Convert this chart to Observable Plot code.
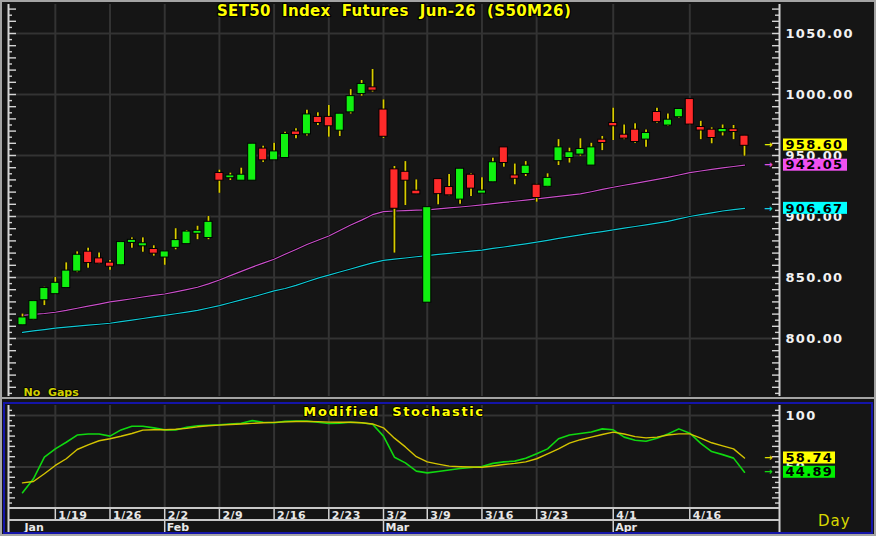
<!DOCTYPE html>
<html>
<head>
<meta charset="utf-8">
<script src="https://cdn.jsdelivr.net/npm/d3@7"></script>
<script src="https://cdn.jsdelivr.net/npm/@observablehq/plot@0.6"></script>
<style>
  html, body { margin: 0; padding: 0; background: #151515; }
  #wrap { position: relative; width: 876px; height: 536px; background: #151515; overflow: hidden; }
  #main { position: absolute; left: 0; top: 0; }
  #stoch { position: absolute; left: 0; top: 400px; }
  svg { overflow: visible; }
  svg text { paint-order: stroke; white-space: pre; }
  .line { position: absolute; }
  #outer { left: 0; top: 0; width: 872px; height: 532px; border: 2px solid #a4a4a4; }
  #sep { left: 0; top: 397px; width: 876px; height: 2px; background: #a4a4a4; }
  #blue { left: 3px; top: 402px; width: 866px; height: 128px; border: 2px solid #1414a8; }
  #row1 { left: 8px; top: 507px; width: 771px; height: 2px; background: #c8c8c8; }
  #row2 { left: 8px; top: 519px; width: 771px; height: 2px; background: #c8c8c8; }
  #day { position: absolute; left: 818px; top: 512px; font: 15px "DejaVu Sans"; color: #d8d800; letter-spacing: 1px; }
</style>
</head>
<body>
<div id="wrap">
  <div id="main"></div>
  <div id="stoch"></div>
  <div class="line" id="outer"></div>
  <div class="line" id="sep"></div>
  <div class="line" id="blue"></div>
  <div class="line" id="row1"></div>
  <div class="line" id="row2"></div>
  <div id="day">Day</div>
</div>
<script>
// ---------- data ----------
const dates = ["1/14","1/15","1/16","1/19","1/20","1/21","1/22","1/23","1/26","1/27","1/28","1/29","1/30",
  "2/2","2/3","2/4","2/5","2/6","2/9","2/10","2/11","2/12","2/13","2/16","2/17","2/18","2/19","2/20",
  "2/23","2/24","2/25","2/26","2/27","3/2","3/4","3/5","3/6","3/9","3/10","3/11","3/12","3/13",
  "3/16","3/17","3/18","3/19","3/20","3/23","3/24","3/25","3/26","3/27","3/30","3/31",
  "4/1","4/2","4/3","4/7","4/8","4/9","4/10","4/16","4/17","4/20","4/21","4/22","4/23"];

const open = [811.5,816,832,837,842,855.5,870.5,865,861.5,860.7,879,876.2,872.7,
  867,875,878,886.5,883,935,932,930,930,955,946.7,948.6,969,968,981,
  981,971,986,1001,1005.2,987,938,936,920.5,830,930,923.5,914.5,933.6,
  919.4,928.7,956,933,935.5,925.4,925,946,948.6,951.4,942.4,962.3,
  976,966.4,970.5,963.7,985,975.2,982,995.6,972.7,970.5,969.7,970.9,965.6];
const high = [820,831,842,850,862,871,874,870,864,879.5,882.5,882.5,876,
  871,890,888.5,892,900,938,935.5,939.6,959.5,957.6,960,969,972,987,985,
  991,984,1004,1011.5,1020.5,995.6,941,945,930,907.5,930.5,934.4,939,935,
  931.7,947.8,956.5,943,945,926.5,935,963,956,963.7,960,965.6,
  988.8,975,976,971,988.8,984,988.3,996,978,972.7,975,974.6,966.4];
const low = [810.7,815,827,836,841,854,857.6,861,856,859.8,874,870.7,867.5,
  860,872.7,877.6,881,881,919,929.5,930,929.5,944.3,946,947.8,963.7,966,974.6,
  965,965.6,984,998.6,1002,964,870,909,918,829.5,909.6,917,910,916.4,
  918.6,928,940.4,926,932.8,911.7,924,941.8,943.8,949.4,941.8,954,
  962.3,963,960,956.8,976.5,974,980.6,975,963,959.6,966,963,949.4];
const close = [816.6,830,840.7,845,855,868,862.5,862,859.5,878.4,880.2,877.4,870.2,
  870.7,880,887,887.6,895,930,933,933.6,959,946.7,952.7,967,967.5,983,977.3,
  974.6,983.6,998,1008,1003.8,966,907,930,918.8,907,919,918,938.5,923.5,
  920.6,943.8,944.5,931.6,941,915.8,931,956,952,954.7,956,960.9,
  974.6,964.5,961.7,967.8,978,978.7,987.5,976,971.1,965,971.1,969.9,958.6];

const maFast = [819,819.8,820.5,821.5,823,824.8,826.5,828.2,830,831.3,832.6,834,835.3,
  836.5,838.2,840,842,844.8,848,851.5,855,858.5,861.8,865,869,873,877,880.5,
  884,888.5,893,897,901.5,904,904.5,904.8,905.2,905.5,906.3,907,907.8,908.6,
  909.5,910.5,911.5,912.5,913.5,914.5,915.5,916.5,917.5,918.5,920.3,922.2,
  924,925.6,927.2,928.8,930.4,932,934,936,937.3,938.6,939.8,941,942.05];
const maSlow = [805,806.2,807.3,808.5,809.3,810.1,810.9,811.7,812.5,813.8,815.1,816.4,817.7,
  819,820.3,821.6,823,825,827,829.3,831.6,834,836.5,839,841,843.5,846.5,849.5,
  852,854.5,857,859.5,862,864,865,866,867,868,869,869.8,870.7,871.6,
  872.5,873.8,875,876.3,877.6,879,880.5,882,883.5,885,886.3,887.6,
  889,890.4,891.8,893.2,894.6,896,898,900,901.5,903,904.5,905.6,906.67];

const stochK = [25,38.5,59.5,67.6,74,81,82,82,80,86,89.5,89.6,88,
  86,86,88.5,90,90.5,91,91.8,92.5,95,93.5,93,94.3,94.5,94.5,93.5,
  92.2,92.6,93.5,93,91.5,80,59.5,54,46,44.3,45.6,47,48.5,49.5,
  50.5,53.5,55,55.7,58.5,62.8,67.6,77.4,81,82.5,84,87,
  86.1,79,76,75,78,82,87,82.8,73,65,62,58.6,44.89];
const stochD = [34.6,35.9,43.4,51.5,58,67,71.5,75.5,77.4,79.8,82.5,85.8,86.1,
  86.1,86.6,87.5,89,90,90.6,91.2,91.8,92.3,92.9,93.3,93.8,94.2,94.2,94,
  93.6,93.5,93.5,93,91.8,88,78,69.5,60,55,52.8,50.8,50.3,50,
  49.8,51,52.4,53.5,55,58,62.8,67.5,73.1,76.5,79,81.5,
  83.8,82,79.5,78.3,79,81,82.2,82.2,78,73.5,70.5,67.6,58.74];

const priceTicks = [800, 850, 900, 950, 1000, 1050];
const stochTicks = [50, 100];
const weekLabels = ["1/19","1/26","2/2","2/9","2/16","2/23","3/2","3/9","3/16","3/23","4/1","4/16"];
const monthLabels = ["Jan","Feb","Mar","Apr"];
const monthStarts = ["1/14","2/2","3/2","4/1"];

const title = "SET50  Index  Futures  Jun-26  (S50M26)";
const stochTitle = "Modified  Stochastic";
const gapsNote = "No  Gaps";

// ---------- derived tables ----------
const idx = d3.range(dates.length);
const candles = idx.map(i => ({i, open: open[i], high: high[i], low: low[i], close: close[i]}));
const weekTicks = weekLabels.map(l => ({i: dates.indexOf(l), label: l}));
const months = monthLabels.map((l, k) => ({i: dates.indexOf(monthStarts[k]), label: l}));
const last = idx.length - 1;

const mainBoxes = [
  {v: close[last], fill: "#ffff00", arrow: "#e8e800"},
  {v: maFast[last], fill: "#f050f0", arrow: "#e050e0"},
  {v: maSlow[last], fill: "#00ffff", arrow: "#10d0e0"}
];
const stochBoxes = [
  {v: stochD[last], fill: "#ffff00", arrow: "#e0d800"},
  {v: stochK[last], fill: "#00f000", arrow: "#10d810"}
];

// ---------- styling ----------
const W = 876, ML = 8, MR = 97, PW = W - ML - MR;
const xDomain = [-1.28, 69.2];
const grid = "#333333";
const axisCol = "#d4d4d4";
const green = "#10f010", red = "#ff2a2a", wick = "#d8cc00";
const baseStyle = {background: "transparent", color: "#f2f2f2", fontFamily: "DejaVu Sans",
                   fontSize: "13px", fontWeight: "bold"};

function tickMarks(values, side, len) {
  return Plot.ruleY(values, side === "right"
    ? {y: d => d, insetLeft: PW - len, stroke: axisCol, strokeWidth: 1.4}
    : {y: d => d, insetRight: PW - len, stroke: axisCol, strokeWidth: 1.4});
}

function boxMarks(data, boxW, fmt) {
  return [
    Plot.rect(data, {y1: "v", y2: "v", insetTop: -6, insetBottom: -6,
      insetLeft: PW + 4, insetRight: -(boxW + 4), fill: "fill"}),
    Plot.text(data, {y: "v", text: d => fmt(d.v), frameAnchor: "right", dx: 6, textAnchor: "start",
      fill: "#000", fontSize: 13, fontWeight: "bold"}),
    Plot.text(data, {y: "v", text: () => "→", frameAnchor: "right", dx: -11, textAnchor: "middle",
      fill: "arrow", fontSize: 10, fontWeight: "bold"})
  ];
}

function spacing(svg) {
  const sel = d3.select(svg).selectAll("text");
  sel.filter(function () { return /^[0-9.]+$/.test(this.textContent); }).style("letter-spacing", "1.3px");
  sel.filter(function () { return /^\d+\/\d+$/.test(this.textContent); }).style("letter-spacing", "0.5px");
  sel.filter(function () { return this.textContent === title; }).style("letter-spacing", "0.35px");
  sel.filter(function () { return this.textContent === stochTitle; }).style("letter-spacing", "1.6px");
}

// ---------- main price panel ----------
const yMain = [752.46, 1073.77];
const minor5 = d3.range(755, 1075, 5).filter(v => v % 10 !== 0);
const major10 = d3.range(760, 1075, 10);

const mainPlot = Plot.plot({
  width: W, height: 400,
  marginLeft: ML, marginRight: MR, marginTop: 4, marginBottom: 4,
  style: baseStyle,
  x: {domain: xDomain, axis: null},
  y: {domain: yMain, axis: "right", ticks: priceTicks, tickFormat: d => d.toFixed(2),
      tickSize: 0, tickPadding: 6, label: null},
  marks: [
    Plot.ruleY(priceTicks, {stroke: grid, strokeWidth: 2}),
    Plot.ruleX(weekTicks, {x: "i", stroke: grid, strokeWidth: 2}),
    Plot.line(maSlow, {x: (d, i) => i, y: d => d, stroke: "#000", strokeWidth: 2.4}),
    Plot.line(maSlow, {x: (d, i) => i, y: d => d, stroke: "#10c8d4", strokeWidth: 1.2}),
    Plot.line(maFast, {x: (d, i) => i, y: d => d, stroke: "#000", strokeWidth: 2.4}),
    Plot.line(maFast, {x: (d, i) => i, y: d => d, stroke: "#c850c8", strokeWidth: 1.2}),
    Plot.ruleX(candles, {x: "i", y1: "low", y2: "high", stroke: "#000", strokeWidth: 3.6}),
    Plot.ruleX(candles, {x: "i", y1: "low", y2: "high", stroke: wick, strokeWidth: 1.8}),
    Plot.rect(candles, {x1: d => d.i - 0.37, x2: d => d.i + 0.37, y1: "open", y2: "close",
      insetTop: -0.8, insetBottom: -0.8,
      fill: d => d.close >= d.open ? green : red, stroke: "#000", strokeWidth: 1}),
    Plot.ruleX(xDomain, {stroke: axisCol, strokeWidth: 2}),
    tickMarks(minor5, "left", 4), tickMarks(major10, "left", 8),
    tickMarks(minor5, "right", 4), tickMarks(major10, "right", 7),
    ...boxMarks(mainBoxes, 64, v => v.toFixed(2)),
    Plot.text([title], {text: d => d, frameAnchor: "top", lineAnchor: "middle", dy: 7, fill: "#ffff00",
      stroke: "#000", strokeWidth: 2.5, fontSize: 15, fontWeight: "bold"}),
    Plot.text([gapsNote], {text: d => d, frameAnchor: "bottom-left", lineAnchor: "middle", dx: 15, dy: -4,
      textAnchor: "start", fill: "#d0d000", stroke: "#000", strokeWidth: 1.5,
      fontSize: 11, fontWeight: "bold"})
  ]
});
spacing(mainPlot);
document.getElementById("main").append(mainPlot);

// ---------- stochastic panel ----------
const yStoch = [9.7, 109.7];
const sMinor = d3.range(15, 110, 10);
const sMajor = d3.range(10, 110, 10);

const stochPlot = Plot.plot({
  width: W, height: 136,
  marginLeft: ML, marginRight: MR, marginTop: 5, marginBottom: 28,
  style: baseStyle,
  x: {domain: xDomain, axis: null},
  y: {domain: yStoch, axis: "right", ticks: stochTicks, tickFormat: d => String(d),
      tickSize: 0, tickPadding: 6, label: null},
  marks: [
    Plot.ruleY(stochTicks, {stroke: grid, strokeWidth: 2}),
    Plot.ruleX(weekTicks, {x: "i", stroke: grid, strokeWidth: 2}),
    Plot.line(stochK, {x: (d, i) => i, y: d => d, stroke: "#10d810", strokeWidth: 1.6}),
    Plot.line(stochD, {x: (d, i) => i, y: d => d, stroke: "#d4c400", strokeWidth: 1.4}),
    Plot.ruleX(xDomain, {stroke: axisCol, strokeWidth: 2, insetBottom: -24}),
    tickMarks(sMinor, "left", 4), tickMarks(sMajor, "left", 7),
    tickMarks(sMinor, "right", 4), tickMarks(sMajor, "right", 7),
    ...boxMarks(stochBoxes, 52, v => v.toFixed(2)),
    Plot.text([stochTitle], {text: d => d, frameAnchor: "top", lineAnchor: "middle", dy: 6.5, fill: "#ffff00",
      stroke: "#000", strokeWidth: 2, fontSize: 13, fontWeight: "bold"}),
    // date axis
    Plot.ruleX(weekTicks, {x: "i", insetTop: 103, insetBottom: -12, stroke: axisCol, strokeWidth: 1.5}),
    Plot.ruleX(months.filter(d => d.i > 0), {x: "i", insetTop: 115, insetBottom: -24, stroke: axisCol, strokeWidth: 1.5}),
    Plot.text(weekTicks, {x: "i", text: "label", frameAnchor: "bottom", lineAnchor: "middle", dy: 7, dx: 3,
      textAnchor: "start", fill: "#e8e8e8", fontSize: 11, fontWeight: "bold"}),
    Plot.text(months, {x: "i", text: "label", frameAnchor: "bottom", lineAnchor: "middle", dy: 18.5, dx: 2,
      textAnchor: "start", fill: "#e8e8e8", fontSize: 11, fontWeight: "bold"})
  ]
});
spacing(stochPlot);
document.getElementById("stoch").append(stochPlot);
</script>
</body>
</html>
